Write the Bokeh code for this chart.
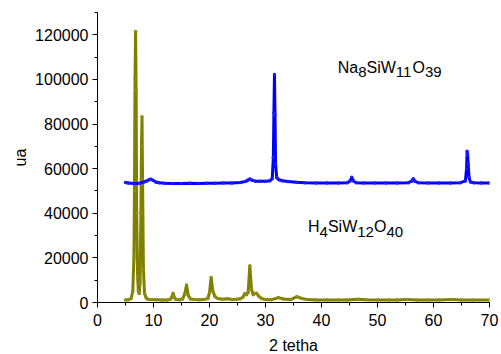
from bokeh.plotting import figure
from bokeh.models import Label, SingleIntervalTicker, Range1d, BasicTickFormatter
from bokeh.embed import file_html
from bokeh.resources import INLINE

# H4SiW12O40 pattern (olive)
olive_x = [5.0, 5.5, 6.0, 6.3, 6.5, 6.6, 6.7, 6.8, 6.9, 7.0, 7.15, 7.3, 7.45, 7.6, 7.75,
           7.85, 7.95, 8.05, 8.2, 8.4, 8.7, 9.0, 9.5, 10.5, 11.5, 12.5, 13.1, 13.3, 13.5,
           13.7, 14.0, 14.6, 15.2, 15.6, 15.9, 16.2, 16.6, 17.3, 18.2, 19.0, 19.7, 20.0,
           20.3, 20.6, 21.0, 21.5, 22.3, 23.2, 24.0, 24.8, 25.5, 26.0, 26.3, 26.6, 26.9,
           27.2, 27.5, 27.8, 28.1, 28.4, 28.8, 29.3, 30.0, 31.0, 32.3, 33.2, 34.5, 35.6,
           36.5, 37.5, 39.0, 41.0, 43.0, 44.5, 46.6, 48.0, 50.0, 52.0, 53.5, 55.2, 57.0,
           59.0, 61.0, 63.3, 65.0, 67.0, 70.0]
olive_y = [1100, 1200, 1800, 5000, 20000, 50000, 100000, 121500, 95000, 40000, 12000, 5000,
           4000, 9000, 40000, 70000, 83300, 55000, 15000, 4000, 2000, 1500, 1300, 1200, 1100,
           1100, 1600, 2600, 4100, 2400, 1400, 1200, 1600, 4000, 7800, 3200, 1600, 1300,
           1200, 1300, 1800, 4500, 11200, 5000, 2600, 1800, 1500, 1700, 1400, 1500, 1700,
           2500, 4000, 3500, 4500, 16500, 6000, 3500, 4000, 4200, 2800, 1800, 1300, 1200,
           2200, 1600, 1300, 2600, 1800, 1300, 1100, 1100, 1100, 1100, 1500, 1200, 1100,
           1100, 1100, 1400, 1100, 1100, 1100, 1400, 1100, 1100, 1100]

# Na8SiW11O39 pattern (blue)
blue_x = [5.0, 5.5, 6.5, 7.5, 8.3, 8.8, 9.2, 9.5, 9.9, 10.4, 11.0, 12.0, 13.5, 15.0, 16.5,
          18.0, 19.5, 21.0, 22.5, 24.0, 25.5, 26.5, 26.9, 27.2, 27.6, 28.2, 29.0, 30.0,
          30.8, 31.2, 31.4, 31.5, 31.6, 31.7, 31.8, 32.0, 32.4, 33.0, 34.0, 35.5, 37.0,
          39.0, 41.0, 43.0, 44.6, 45.1, 45.4, 45.7, 46.2, 47.5, 49.5, 51.5, 53.5, 55.5,
          56.1, 56.4, 56.7, 57.3, 59.0, 61.0, 63.0, 64.8, 65.7, 65.9, 66.0, 66.1, 66.2,
          66.35, 66.6, 67.2, 68.5, 70.0]
blue_y = [53800, 53600, 53300, 53500, 54000, 54500, 55000, 55300, 54800, 54000, 53700,
          53500, 53400, 53400, 53500, 53400, 53500, 53500, 53600, 53600, 53800, 54300,
          54900, 55400, 54800, 54400, 54300, 54300, 54600, 55500, 65000, 85000, 102200,
          84000, 62000, 56000, 55000, 54600, 54200, 53900, 53700, 53600, 53600, 53600,
          53700, 54500, 56100, 54500, 53700, 53600, 53600, 53600, 53600, 53700, 54400,
          55500, 54300, 53700, 53600, 53600, 53600, 53700, 54500, 60000, 67800, 66000,
          62000, 56000, 54000, 53700, 53600, 53600]

x_ticks_interval = 10
y_ticks_interval = 20000

FONT = "Liberation Sans"

p = figure(output_backend="svg", toolbar_location=None,
           x_range=Range1d(0, 70), y_range=Range1d(0, 130000),
           min_border_left=97, min_border_right=10, min_border_top=12, min_border_bottom=52,
           frame_width=392, frame_height=290)
p.outline_line_color = None
p.xgrid.visible = False
p.ygrid.visible = False
p.background_fill_color = "white"
p.border_fill_color = "white"

p.line(olive_x, olive_y, line_color="#808000", line_width=3)
p.scatter(olive_x, olive_y, size=3.5, fill_color="#8c8c10", line_color=None)
p.line(blue_x, blue_y, line_color="#0000ff", line_width=3)
p.scatter(blue_x, blue_y, size=3.5, fill_color="#1a1aff", line_color=None)

p.xaxis.ticker = SingleIntervalTicker(interval=x_ticks_interval, num_minor_ticks=2)
p.yaxis.ticker = SingleIntervalTicker(interval=y_ticks_interval, num_minor_ticks=2)
p.yaxis.formatter = BasicTickFormatter(use_scientific=False)
p.xaxis.formatter = BasicTickFormatter(use_scientific=False)
p.xaxis.axis_label = "2 tetha"
p.yaxis.axis_label = "ua"
for ax in (p.xaxis, p.yaxis):
    ax.axis_line_color = "black"
    ax.axis_line_width = 1
    ax.major_tick_line_color = "black"
    ax.minor_tick_line_color = "black"
    ax.major_tick_in = 0
    ax.major_tick_out = 5
    ax.minor_tick_in = 0
    ax.minor_tick_out = 3
    ax.major_label_text_font = FONT
    ax.major_label_text_font_size = "16px"
    ax.major_label_text_color = "black"
    ax.axis_label_text_font = FONT
    ax.axis_label_text_font_size = "16px"
    ax.axis_label_text_font_style = "normal"
    ax.axis_label_text_color = "black"
p.xaxis.major_label_standoff = 6
p.xaxis.axis_label_standoff = 8
p.yaxis.major_label_standoff = 4
p.yaxis.axis_label_standoff = 3


def formula(parts, x, y):
    off = 0.0
    for txt, sub, w in parts:
        size = 15 if sub else 16
        p.add_layout(Label(x=x, y=y, x_offset=off, y_offset=-5 if sub else 0,
                           text=txt, text_font=FONT, text_font_size=f"{size}px",
                           text_color="black", text_baseline="alphabetic",
                           text_align="left"))
        off += w * size


formula([("Na", False, 1.278), ("8", True, 0.556), ("SiW", False, 1.833),
         ("11", True, 1.112), ("O", False, 0.778), ("39", True, 1.112)], 42.9, 105500)
formula([("H", False, 0.722), ("4", True, 0.556), ("SiW", False, 1.833),
         ("12", True, 1.112), ("O", False, 0.778), ("40", True, 1.112)], 37.6, 34000)

open("out.html", "w").write(file_html(p, INLINE))
